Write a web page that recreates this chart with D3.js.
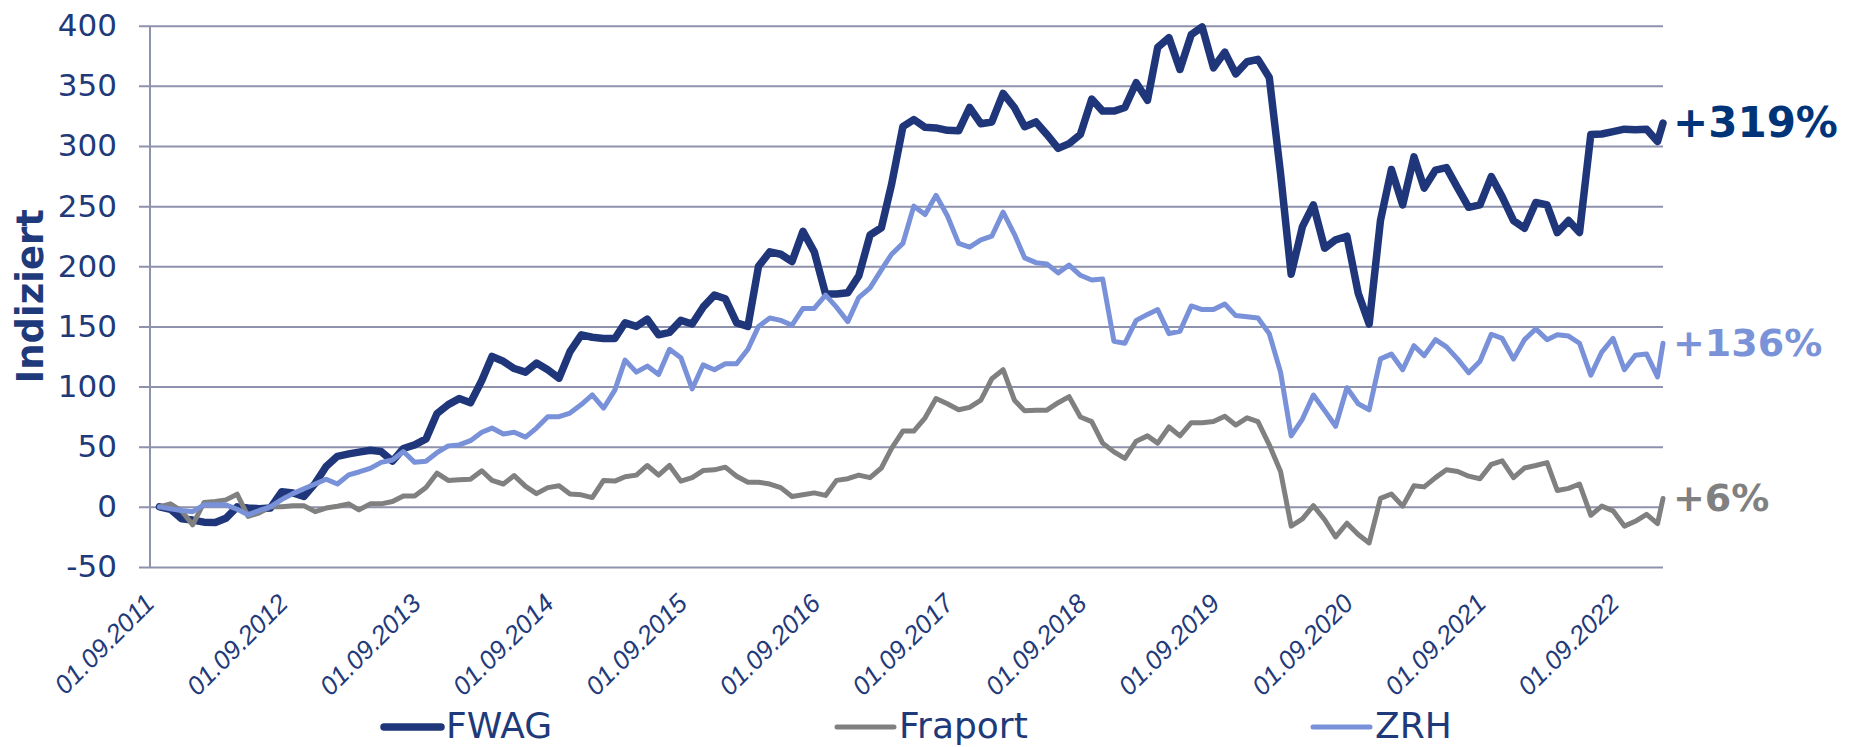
<!DOCTYPE html>
<html>
<head>
<meta charset="utf-8">
<script src="https://cdnjs.cloudflare.com/ajax/libs/d3/7.8.5/d3.min.js"></script>
<style>
  html, body { margin: 0; padding: 0; background: #ffffff; }
  svg { display: block; }
</style>
</head>
<body>
<svg id="chart" width="1853" height="747"></svg>
<script>
// ---------------- DATA ----------------
const seriesNames = ["FWAG", "Fraport", "ZRH"];
const firstMonth = "2011-09-01";   // monthly observations start
const monthlyCount = 136;          // monthly points before the final observation
const lastDate = "2022-12-16";     // final observation
const xTickLabels = ["01.09.2011","01.09.2012","01.09.2013","01.09.2014","01.09.2015","01.09.2016",
                     "01.09.2017","01.09.2018","01.09.2019","01.09.2020","01.09.2021","01.09.2022"];
const yTicks = [-50, 0, 50, 100, 150, 200, 250, 300, 350, 400];
const endLabels = ["+319%", "+6%", "+136%"];   // same order as seriesNames

const fwag = [0,-2,-10,-11,-12.7,-13,-9.5,0,-1,-1.5,-1,12.5,11.5,8.6,19.5,33.5,42,44,45.5,47,
  46,38,48.5,51.5,56.5,77.5,85,90,86.5,105,125,121,115,112,119.5,114,107,129,143,141,
  140,140,153,150,156,143,145,155,152,166,176,173,153,150,200,212,210,204,229,212,
  177,177,178,192,226,232,268,316,322,315.5,315,313,312.6,332,318.5,320,343.7,332,316,320,
  309.6,298,302,309.6,339,329,329,332,352.6,338,382,390,363.6,392.6,399,365,378,360,370,372,
  357,277,193.4,233,251,215,222,225,177.6,152,238,280.5,251,291,265,280,282,265,249,251,
  274.6,257.7,238,231.6,253,251,228,238,228,309.6,310,312,314,313.5,314,303.7,319];

const fraport = [0,2.5,-3.5,-15,3.6,4.5,5.8,10.5,-8,-5,0,0,1,1,-4,-1,0.5,2.5,-2.5,2.5,
  2.5,4.4,9,9,16,28,22,22.5,23,30,22,19,26,17,11,16,17.5,10.7,10,7.7,
  22,21.4,25,26.4,34.4,26.4,34.4,21.4,24.3,30.2,30.8,33,25.5,20.5,20.5,19,16,8.6,10,11.6,
  9.5,22,23.4,26.4,24.3,32.3,48.6,63,63,74,90,85.7,80.7,82.7,88.7,106.5,114,88.7,79.8,80.4,
  80.4,86.6,91.6,74.7,70.9,53,45.7,40.3,54.6,59,53,66.4,59,70,70,70.9,75.3,68,74,70.9,
  51.6,29.4,-16,-10,1,-10.7,-25,-13.6,-23,-30,7,10.7,0.6,17.5,16.6,24.3,30.8,29.4,25.5,23.4,
  35.3,38.3,24.3,32.3,34.4,36.8,13.6,15.4,19,-7,0.6,-3.3,-16,-12,-6.2,-14,7];

const zrh = [0,-1.5,-3,-4,1.7,1.7,1.7,-2,-6.6,-3,0,6,11,15,19,23,19,26.6,29,32,
  37,39,46,37,38,45,50.7,51.5,55,62,65.5,60.5,62,58,65.5,75,75,78,85,93,
  82,97,122,112,117,110,131,124,98,118,114,119,119,131,150,157,155,151,165,165,
  176,166,154,174,182,197,210,219,250,243,259,242,219,216,222,225,245,226.6,207,203,
  202,194.5,201,192.5,188.6,189.5,137.6,136,155,160,164,144,146,167,164,164,168.7,159,158,157,
  144,112,59,73,93,80,67,99,85.7,80.7,123,127,114,134,125.7,139,133,122.8,111.5,121,
  143.5,140,122.8,139,148,139,143,142,136,109.4,128.7,140,114,126,127,108,136];

// ---------------- SETUP ----------------
const parseISO = d3.timeParse("%Y-%m-%d");
const parseTick = d3.timeParse("%d.%m.%Y");
const start = parseISO(firstMonth);
const dates = d3.timeMonth.range(start, d3.timeMonth.offset(start, monthlyCount)).concat([parseISO(lastDate)]);

const colors = { FWAG: "#1f367a", Fraport: "#808080", ZRH: "#7891d8" };
const widths = { FWAG: 7.5, Fraport: 5, ZRH: 5 };
const labelColors = { FWAG: "#003478", Fraport: "#808080", ZRH: "#7a93d8" };
const labelSizes = { FWAG: 42, Fraport: 38, ZRH: 38 };
const textColor = "#1f3a7a";
const gridColor = "#8e92ad";

const series = [
  { name: seriesNames[0], values: fwag, label: endLabels[0] },
  { name: seriesNames[1], values: fraport, label: endLabels[1] },
  { name: seriesNames[2], values: zrh, label: endLabels[2] }
];

const plotLeft = 139, axisX = 150, plotRight = 1663;
const x = d3.scaleTime().domain([dates[0], dates[dates.length - 1]]).range([159.5, 1663]);
const y = d3.scaleLinear().domain([-50, 400]).range([567, 25.7]);

const svg = d3.select("#chart");
svg.append("rect").attr("width", 1853).attr("height", 747).attr("fill", "#fff");

// y grid + labels
const yAxis = svg.append("g")
  .attr("transform", `translate(${plotLeft},0)`)
  .call(d3.axisLeft(y).tickValues(yTicks).tickSize(-(plotRight - plotLeft)).tickPadding(22).tickFormat(d => String(d)));
yAxis.select(".domain").remove();
yAxis.selectAll(".tick line").attr("stroke", gridColor).attr("stroke-width", 2);
yAxis.selectAll(".tick text")
  .attr("fill", textColor)
  .style("font-family", "'DejaVu Sans', Verdana, sans-serif")
  .style("font-size", "31px");

// y axis line
svg.append("line")
  .attr("x1", axisX).attr("x2", axisX)
  .attr("y1", y(400)).attr("y2", y(-50))
  .attr("stroke", gridColor).attr("stroke-width", 2);

// x axis labels
const tickDates = xTickLabels.map(parseTick);
const xAxis = svg.append("g")
  .attr("transform", `translate(0,${y(-50)})`)
  .call(d3.axisBottom(x).tickValues(tickDates).tickSize(0).tickFormat((d, i) => xTickLabels[i]));
xAxis.select(".domain").remove();
xAxis.selectAll(".tick text")
  .attr("x", 0).attr("y", 0).attr("dy", 0)
  .attr("transform", "translate(-4,38) rotate(-45)")
  .style("text-anchor", "end")
  .attr("fill", textColor)
  .style("font-family", "'Liberation Sans', Arial, sans-serif")
  .style("font-style", "italic")
  .style("font-size", "26px");

// y title
svg.append("text")
  .attr("transform", `translate(43,${(y(400) + y(-50)) / 2}) rotate(-90)`)
  .attr("text-anchor", "middle")
  .attr("fill", textColor)
  .style("font-family", "'DejaVu Sans', Verdana, sans-serif")
  .style("font-weight", "bold")
  .style("font-size", "37px")
  .text("Indiziert");

// lines
const line = d3.line().x((d, i) => x(dates[i])).y(d => y(d));
svg.append("g").selectAll("path").data(series).join("path")
  .attr("d", s => line(s.values))
  .attr("fill", "none")
  .attr("stroke", s => colors[s.name])
  .attr("stroke-width", s => widths[s.name])
  .attr("stroke-linejoin", "round")
  .attr("stroke-linecap", "round");

// end labels
svg.append("g").selectAll("text").data(series).join("text")
  .attr("x", 1673)
  .attr("y", s => y(s.values[s.values.length - 1]) + labelSizes[s.name] * 0.34)
  .attr("fill", s => labelColors[s.name])
  .style("font-family", "'DejaVu Sans', Verdana, sans-serif")
  .style("font-weight", "bold")
  .style("font-size", s => labelSizes[s.name] + "px")
  .text(s => s.label);

// legend
const legendX = [384, 837, 1313];
const legend = svg.append("g").selectAll("g").data(series).join("g")
  .attr("transform", (s, i) => `translate(${legendX[i]},727)`);
legend.append("line")
  .attr("x1", 0).attr("x2", 57).attr("y1", 0).attr("y2", 0)
  .attr("stroke", s => colors[s.name])
  .attr("stroke-width", s => widths[s.name])
  .attr("stroke-linecap", "round");
legend.append("text")
  .attr("x", 62).attr("y", 11)
  .attr("fill", textColor)
  .style("font-family", "'DejaVu Sans', Verdana, sans-serif")
  .style("font-size", "36px")
  .text(s => s.name);
</script>
</body>
</html>
